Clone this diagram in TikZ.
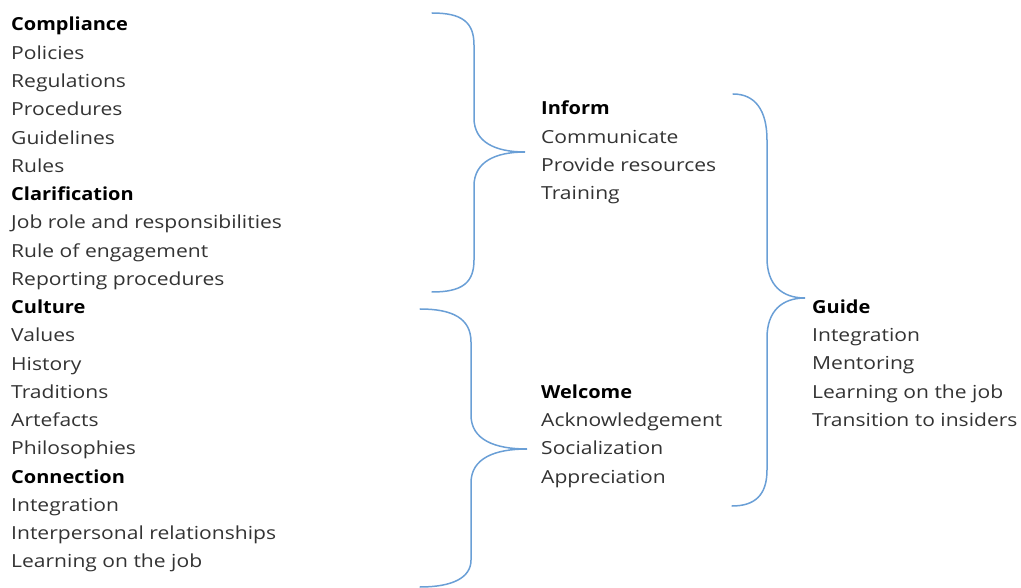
\documentclass[tikz,border=0pt]{standalone}
\usepackage{fontspec}
\setmainfont{Open Sans}[FakeStretch=1.17, BoldFeatures={FakeStretch=1.11}]
\usepackage{xcolor}
\usetikzlibrary{positioning}

\definecolor{bracecol}{HTML}{6A9FD6}
\definecolor{textcol}{HTML}{333333}
\newcommand{\hd}[1]{{\color{black}\bfseries #1}}

\tikzset{
  item/.style={anchor=base west, inner sep=0pt, text=textcol, font=\fontsize{18}{22}\selectfont},
  head/.style={item, text=black, font=\fontsize{18}{22}\bfseries\selectfont},
  brace/.style={draw=bracecol, line width=1.5pt, line cap=round}
}

\begin{document}
\begin{tikzpicture}[x=1pt, y=-1pt]
    \useasboundingbox (0,0) rectangle (1021,588);
    \def\gap{28.26} % distance between lines

    % Left column
    \foreach \t [count=\i] in {\hd{Compliance}, Policies, Regulations, Procedures, Guidelines, Rules,
        \hd{Clarification}, Job role and responsibilities, Rule of engagement, Reporting procedures,
        \hd{Culture}, Values, History, Traditions, Artefacts, Philosophies,
        \hd{Connection}, Integration, Interpersonal relationships, Learning on the job} {
      \pgfmathsetmacro{\ypos}{31+\gap*(\i-1)}
      \node[item] (left\i) at (11, \ypos) {\t};
    }

    % Middle column
    \node[head] (inform) at (541, 115) {Inform};
    \foreach \t [count=\i] in {Communicate, Provide resources, Training}
      \node[item] (inf\i) at (541, 115+\gap*\i) {\t};

    \node[head] (welcome) at (541, 398.3) {Welcome};
    \foreach \t [count=\i] in {Acknowledgement, Socialization, Appreciation}
      \node[item] (wel\i) at (541, 398.3+\gap*\i) {\t};

    % Right column
    \node[head] (guide) at (812, 313.3) {Guide};
    \foreach \t [count=\i] in {Integration, Mentoring, Learning on the job, Transition to insiders}
      \node[item] (gui\i) at (812, 313.3+\gap*\i) {\t};

    % Braces
    \coordinate (tipA) at (525, 152);
    \draw[brace] (432, 13) .. controls (462, 13) and (474, 22) .. (474, 45)
        -- (474, 118) .. controls (474, 142) and (495, 152) .. (tipA)
        .. controls (495, 152) and (474, 162) .. (474, 186)
        -- (474, 260) .. controls (474, 283) and (462, 292) .. (432, 292);

    \coordinate (tipB) at (527, 449);
    \draw[brace] (420, 309) .. controls (452, 309) and (471, 318) .. (471, 342)
        -- (471, 415) .. controls (471, 440) and (495, 449) .. (tipB)
        .. controls (495, 449) and (471, 458) .. (471, 483)
        -- (471, 560) .. controls (471, 578) and (452, 587) .. (420, 587);

    \coordinate (tipC) at (805, 298);
    \draw[brace] (733, 94) .. controls (755, 94) and (767, 110) .. (767, 140)
        -- (767, 258) .. controls (767, 285) and (782, 298) .. (tipC)
        .. controls (782, 298) and (767, 311) .. (767, 338)
        -- (767, 470) .. controls (767, 495) and (755, 506) .. (732, 506);
\end{tikzpicture}
\end{document}
